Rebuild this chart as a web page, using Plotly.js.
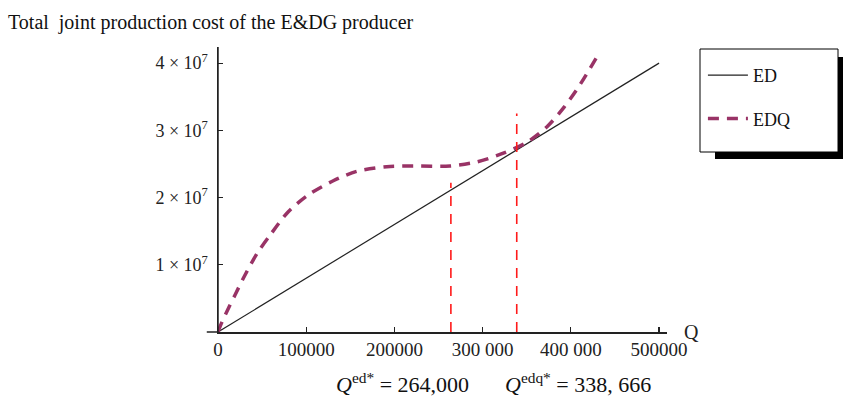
<!DOCTYPE html>
<html>
<head>
<meta charset="utf-8">
<script src="https://cdn.plot.ly/plotly-3.0.1.min.js"></script>
<style>html,body{margin:0;padding:0;background:#fff;}#chart{width:843px;height:396px;}</style>
</head>
<body>
<div id="chart"></div>
<script>
// ---- data ----
const edQ = [0, 500000];
const edCost = [0, 4.0e7];

const edqQ = [0, 4200, 13600, 19300, 28700, 43900, 59000, 79700, 102400, 130700, 157200, 191300, 221400, 263000, 293300, 323500, 350000, 372700, 391500, 410400, 433000];
const edqCost = [0, 1.4e6, 4.0e6, 5.5e6, 8.0e6, 1.16e7, 1.44e7, 1.79e7, 2.04e7, 2.25e7, 2.39e7, 2.46e7, 2.47e7, 2.47e7, 2.53e7, 2.66e7, 2.82e7, 3.05e7, 3.33e7, 3.68e7, 4.17e7];

const optimumQ = [264000, 338666];
const optimumTop = [2.22e7, 3.25e7];

const xTickVals = [0, 100000, 200000, 300000, 400000, 500000];
const xTickText = ['0', '100000', '200000', '300 000', '400 000', '500000'];
const yTickVals = [1e7, 2e7, 3e7, 4e7];
const yTickText = ['1 \u00d7 10<sup>7</sup>', '2 \u00d7 10<sup>7</sup>', '3 \u00d7 10<sup>7</sup>', '4 \u00d7 10<sup>7</sup>'];

const serif = 'Liberation Serif, Times New Roman, serif';

const traces = [
  {x: edQ, y: edCost, mode: 'lines', name: 'ED', legendgroup: 'a',
   line: {color: '#222222', width: 1.2}},
  {x: edqQ, y: edqCost, mode: 'lines', name: 'EDQ', legendgroup: 'b',
   line: {color: '#993366', width: 3.5, dash: '11px,8px', shape: 'spline', smoothing: 0.8}}
];
optimumQ.forEach((q, i) => {
  traces.push({x: [q, q], y: [0, optimumTop[i]], mode: 'lines', showlegend: false,
    line: {color: '#ff1a1a', width: 1.6, dash: '10px,8px'}, hoverinfo: 'skip'});
});

const layout = {
  width: 843, height: 396,
  margin: {l: 218, r: 176, t: 47, b: 64},
  paper_bgcolor: '#fff', plot_bgcolor: '#fff',
  font: {family: serif, size: 17, color: '#222'},
  title: {text: 'Total&nbsp; joint production cost of the E&amp;DG producer', xref: 'container', yref: 'container',
    x: 0.0095, xanchor: 'left', y: 0.945, yanchor: 'middle', font: {family: serif, size: 20, color: '#111'}},
  xaxis: {range: [0, 509000], showgrid: false, zeroline: false, showline: true, linecolor: '#222', linewidth: 1.5,
    ticks: 'inside', ticklen: 5, tickcolor: '#222', tickwidth: 1.2, tickvals: xTickVals, ticktext: xTickText,
    tickfont: {family: serif, size: 19, color: '#222'}, fixedrange: true},
  yaxis: {range: [0, 4.24e7], showgrid: false, zeroline: false, showline: true, linecolor: '#222', linewidth: 1.5,
    ticks: 'inside', ticklen: 5, tickcolor: '#222', tickwidth: 1.2, tickvals: yTickVals, ticktext: yTickText,
    tickfont: {family: serif, size: 18, color: '#222'}, ticklabelstandoff: 5, fixedrange: true},
  showlegend: true,
  legend: {x: 1.08, xanchor: 'left', y: 0.965, yanchor: 'top', bgcolor: 'rgba(0,0,0,0)', borderwidth: 0,
    tracegroupgap: 17, itemwidth: 40, font: {family: serif, size: 18, color: '#111'}},
  shapes: [
    {type: 'line', xref: 'paper', yref: 'paper', x0: -0.025, x1: 0, y0: 0, y1: 0, line: {color: '#222', width: 1.5}},
    {type: 'line', xref: 'paper', yref: 'paper', x0: 0, x1: 0, y0: 0, y1: 1, line: {color: '#222', width: 1.5}},
    {type: 'rect', xref: 'paper', yref: 'paper', x0: (715-218)/449, x1: (843-218)/449, y0: (332-159)/285, y1: (332-57)/285,
     fillcolor: '#000', line: {width: 0}},
    {type: 'rect', xref: 'paper', yref: 'paper', x0: (700-218)/449, x1: (838-218)/449, y0: (332-152)/285, y1: (332-49)/285,
     fillcolor: '#fff', line: {color: '#000', width: 1}}
  ],
  annotations: [
    {text: 'Q', xref: 'paper', yref: 'paper', x: (691-218)/449, y: (332-332)/285, xanchor: 'center', yanchor: 'middle',
     showarrow: false, font: {family: serif, size: 20, color: '#222'}},
    {text: '<i>Q</i><sup>ed*</sup> = 264,000', xref: 'paper', yref: 'paper', x: (402-218)/449, y: (332-383)/285,
     xanchor: 'center', yanchor: 'middle', showarrow: false, font: {family: serif, size: 22, color: '#111'}},
    {text: '<i>Q</i><sup>edq*</sup> = 338, 666', xref: 'paper', yref: 'paper', x: (578-218)/449, y: (332-383)/285,
     xanchor: 'center', yanchor: 'middle', showarrow: false, font: {family: serif, size: 22, color: '#111'}}
  ]
};

Plotly.newPlot('chart', traces, layout, {staticPlot: true, displayModeBar: false});
</script>
</body>
</html>
